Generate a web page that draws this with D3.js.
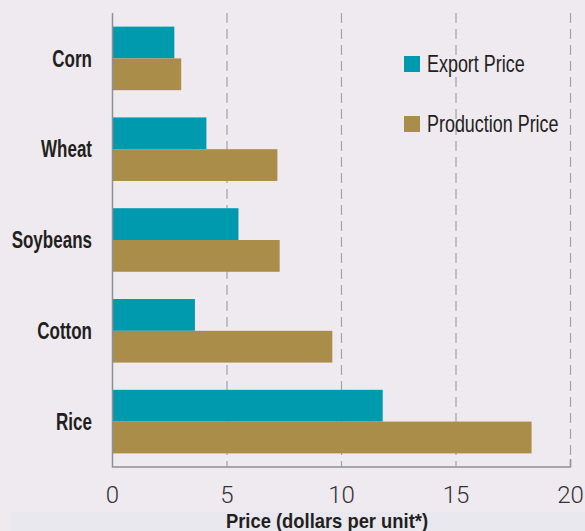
<!DOCTYPE html>
<html>
<head>
<meta charset="utf-8">
<script src="https://cdn.jsdelivr.net/npm/d3@7"></script>
<style>
  html, body { margin: 0; padding: 0; background: #efeaef; }
  svg { display: block; }
  .cat-label { font-family: "Liberation Sans", Arial, sans-serif; font-weight: bold; font-size: 23px; fill: #231f20; }
  .tick-label { font-family: "Roboto", "Lato", sans-serif; font-weight: 300; font-size: 24px; fill: #333; }
  .legend-text { font-family: "Liberation Sans", Arial, sans-serif; font-size: 23px; fill: #231f20; }
  .axis-title { font-family: "Liberation Sans", Arial, sans-serif; font-weight: bold; font-size: 21px; fill: #231f20; }
</style>
</head>
<body>
<svg id="chart" width="585" height="531"></svg>
<script>
"use strict";

// Chart data.
const crops = ["Corn", "Wheat", "Soybeans", "Cotton", "Rice"];
const exportPrice = [2.7, 4.1, 5.5, 3.6, 11.8];
const productionPrice = [3.0, 7.2, 7.3, 9.6, 18.3];
const seriesNames = ["Export Price", "Production Price"];
const xTicks = [0, 5, 10, 15, 20];

const colors = ["#009aaf", "#ab8d4a"];

const svg = d3.select("#chart"),
    width = +svg.attr("width"),
    height = +svg.attr("height");

const plot = { left: 112.5, right: 570.5, top: 13, bottom: 467 };

// The reference uses a tall condensed face; squeeze the text horizontally.
const squeeze = (sx) => "scale(" + sx + ",1)";

// Bottom strip behind the axis title.
svg.append("rect")
    .attr("x", 10)
    .attr("y", 512)
    .attr("width", width - 10)
    .attr("height", height - 512)
    .attr("fill", "#e9e8ee");

const x = d3.scaleLinear()
    .domain([0, 20])
    .range([plot.left, plot.right]);

const y = d3.scaleBand()
    .domain(crops)
    .range([plot.top, plot.bottom])
    .paddingInner(0.3)
    .paddingOuter(0.15);

const sub = d3.scaleBand()
    .domain(seriesNames)
    .range([0, y.bandwidth()]);

// Dashed vertical gridlines.
svg.append("g")
    .selectAll("line")
    .data(xTicks.filter((d) => d > 0))
    .enter().append("line")
    .attr("x1", (d) => x(d))
    .attr("x2", (d) => x(d))
    .attr("y1", plot.top)
    .attr("y2", plot.bottom)
    .attr("stroke", "#9ea4ab")
    .attr("stroke-width", 1.2)
    .attr("stroke-dasharray", "10,6");

// Bars.
const rows = crops.map((c, i) => ({ crop: c, values: [exportPrice[i], productionPrice[i]] }));

const group = svg.append("g")
    .selectAll("g")
    .data(rows)
    .enter().append("g")
    .attr("transform", (d) => "translate(0," + y(d.crop) + ")");

group.selectAll("rect")
    .data((d) => d.values.map((v, j) => ({ series: seriesNames[j], value: v, j: j })))
    .enter().append("rect")
    .attr("x", x(0))
    .attr("y", (d) => sub(d.series))
    .attr("width", (d) => x(d.value) - x(0))
    .attr("height", sub.bandwidth())
    .attr("fill", (d) => colors[d.j]);

// Axis lines.
svg.append("path")
    .attr("d", "M" + plot.left + "," + plot.top + "V" + plot.bottom + "H" + x(20) + "V" + (plot.bottom - 8))
    .attr("fill", "none")
    .attr("stroke", "#8c9198")
    .attr("stroke-width", 1.5);

// Category labels.
svg.append("g")
    .selectAll("g")
    .data(crops)
    .enter().append("g")
    .attr("transform", (d) => "translate(92," + (y(d) + y.bandwidth() / 2) + ")" + squeeze(0.74))
    .append("text")
    .attr("class", "cat-label")
    .attr("dy", "0.36em")
    .attr("text-anchor", "end")
    .text((d) => d);

// Tick labels.
svg.append("g")
    .selectAll("text")
    .data(xTicks)
    .enter().append("text")
    .attr("class", "tick-label")
    .attr("x", (d) => x(d))
    .attr("y", 503)
    .attr("text-anchor", "middle")
    .text((d) => d);

// Axis title.
svg.append("g")
    .attr("transform", "translate(327,528)" + squeeze(0.875))
    .append("text")
    .attr("class", "axis-title")
    .attr("text-anchor", "middle")
    .text("Price (dollars per unit*)");

// Legend.
const legend = svg.append("g")
    .attr("transform", "translate(404,56)")
    .selectAll("g")
    .data(seriesNames)
    .enter().append("g")
    .attr("transform", (d, i) => "translate(0," + i * 60 + ")");

legend.append("rect")
    .attr("width", 16)
    .attr("height", 16)
    .attr("fill", (d, i) => colors[i]);

legend.append("g")
    .attr("transform", "translate(23,8)" + squeeze(0.78))
    .append("text")
    .attr("class", "legend-text")
    .attr("dy", "0.36em")
    .text((d) => d);
</script>
</body>
</html>
